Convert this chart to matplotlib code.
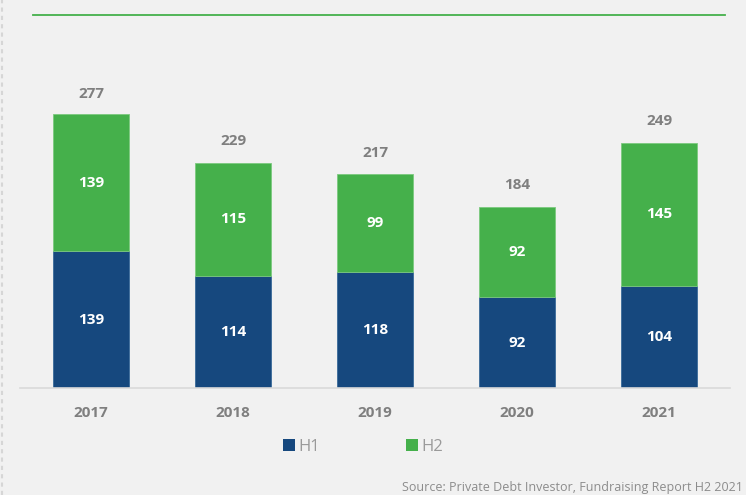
import matplotlib
matplotlib.use("Agg")
import matplotlib.pyplot as plt
from matplotlib.lines import Line2D
from matplotlib.patches import Patch

years = ["2017", "2018", "2019", "2020", "2021"]
h1 = [139, 114, 118, 92, 104]
h2 = [139, 115, 99, 92, 145]
totals = [277, 229, 217, 184, 249]

NAVY = "#16487e"
GREEN = "#45b04b"
GRAY = "#7f7f7f"
BG = "#f1f1f1"

plt.rcParams['font.family'] = ['Open Sans', 'DejaVu Sans']

fig = plt.figure(figsize=(7.46, 4.95), dpi=100, facecolor=BG)
ax = fig.add_axes([20/746, 1-388/495, 710/746, 368/495])
ax.set_facecolor(BG)

x = list(range(len(years)))
w = 0.53
ax.bar(x, h1, width=w, color=NAVY, edgecolor="#3a6a9a", linewidth=0.6, label="H1")
ax.bar(x, h2, width=w, bottom=h1, color=GREEN, edgecolor="#7cc97f", linewidth=0.6, label="H2")

for i in x:
    ax.text(i, h1[i]/2, str(h1[i]), ha="center", va="center", color="white",
            fontsize=11, fontweight="bold")
    ax.text(i, h1[i] + h2[i]/2, str(h2[i]), ha="center", va="center", color="white",
            fontsize=11, fontweight="bold")
    ax.text(i, totals[i] + 22, str(totals[i]), ha="center", va="center", color=GRAY,
            fontsize=11, fontweight="bold")

ax.set_xlim(-0.5, 4.5)
ax.set_ylim(0, 374)
ax.set_xticks(x)
ax.set_xticklabels(years, color=GRAY, fontsize=11, fontweight="bold")
ax.tick_params(axis="x", length=0, pad=13)
ax.set_yticks([])
for s in ["top", "right", "left"]:
    ax.spines[s].set_visible(False)
ax.spines["bottom"].set_color("#d9d9d9")
ax.spines["bottom"].set_linewidth(1.2)

handles = [Patch(facecolor=NAVY, label="H1"), Patch(facecolor=GREEN, label="H2")]
leg = fig.legend(handles=handles, loc="center", bbox_to_anchor=(363/746, 1-447/495),
                 ncol=2, frameon=False, handlelength=0.7, handleheight=0.7,
                 handletextpad=0.2, columnspacing=5.2, fontsize=12)
for t in leg.get_texts():
    t.set_color("#9a9a9a")

# green rule at top
fig.add_artist(Line2D([33/746, 725/746], [1-15/495, 1-15/495], color=GREEN, linewidth=1.3))
# left dashed border
fig.add_artist(Line2D([1.5/746, 1.5/746], [0, 1], color="#d6d6d6", linewidth=1.5,
                      linestyle=(0, (2, 2))))

fig.text(743/746, 1-488/495, "Source: Private Debt Investor, Fundraising Report H2 2021",
         ha="right", va="center", color="#8c8c8c", fontsize=9.0)

fig.savefig("out.png", dpi=100, facecolor=BG)
